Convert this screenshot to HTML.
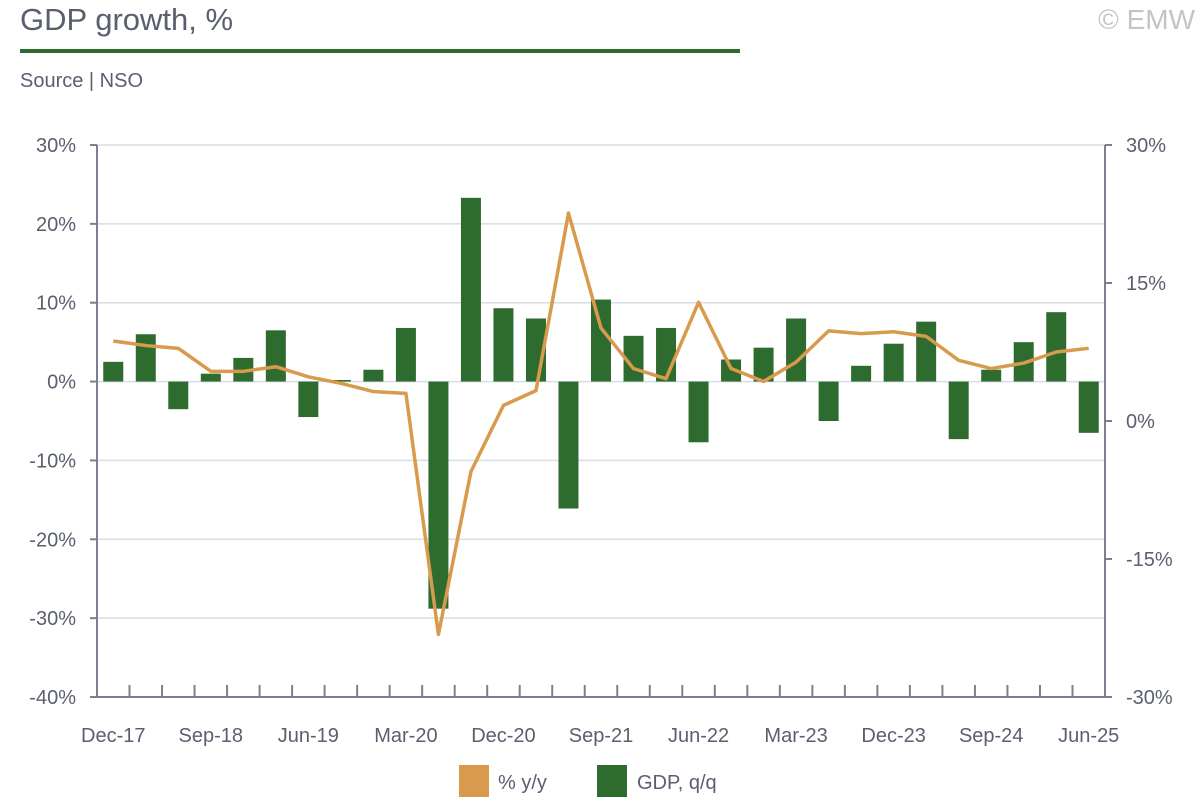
<!DOCTYPE html>
<html><head><meta charset="utf-8"><style>
body{margin:0;width:1200px;height:800px;background:#fff;font-family:"Liberation Sans",sans-serif;overflow:hidden;position:relative}
.t{position:absolute;color:#5a5f70}
</style></head><body>
<div class="t" style="left:20px;top:2px;font-size:31px;">GDP growth, %</div>
<div style="position:absolute;left:20px;top:49px;width:720px;height:4px;background:#2e6b2e"></div>
<div class="t" style="left:20px;top:70px;font-size:20px;">Source | NSO</div>
<div class="t" style="right:5px;top:4px;font-size:28px;color:#c4c4c8">© EMW</div>
<svg id="c" width="1200" height="800" style="position:absolute;left:0;top:0"></svg>
<script>
const categories=["Dec-17","Mar-18","Jun-18","Sep-18","Dec-18","Mar-19","Jun-19","Sep-19","Dec-19","Mar-20","Jun-20","Sep-20","Dec-20","Mar-21","Jun-21","Sep-21","Dec-21","Mar-22","Jun-22","Sep-22","Dec-22","Mar-23","Jun-23","Sep-23","Dec-23","Mar-24","Jun-24","Sep-24","Dec-24","Mar-25","Jun-25"];
const gdpQQ=[2.5,6.0,-3.5,1.0,3.0,6.5,-4.5,0.2,1.5,6.8,-28.8,23.3,9.3,8.0,-16.1,10.4,5.8,6.8,-7.7,2.8,4.3,8.0,-5.0,2.0,4.8,7.6,-7.3,1.5,5.0,8.8,-6.5];
const gdpYY=[8.7,8.2,7.9,5.4,5.4,5.9,4.8,4.1,3.2,3.0,-23.2,-5.5,1.7,3.3,22.6,10.1,5.7,4.6,12.9,5.7,4.3,6.4,9.8,9.5,9.7,9.2,6.6,5.7,6.3,7.5,7.9];
const leftTicks=[30,20,10,0,-10,-20,-30,-40];
const rightTicks=[30,15,0,-15,-30];
const xLabelIdx=[0,3,6,9,12,15,18,21,24,27,30];
const NS="http://www.w3.org/2000/svg",svg=document.getElementById('c');
const X0=97,X1=1105,TOP=145,BOT=697;
const band=(X1-X0)/categories.length;
const xc=i=>X0+band*(i+0.5);
const yL=v=>TOP+(30-v)*(BOT-TOP)/70;
const yR=v=>TOP+(30-v)*(BOT-TOP)/60;
function mk(t,a,p){const e=document.createElementNS(NS,t);for(const k in a)e.setAttribute(k,a[k]);(p||svg).appendChild(e);return e;}
const ax="#7a8090",txt="#5a5f70";
leftTicks.forEach(v=>{
 if(v!==-40){const g=mk('line',{x1:X0,x2:X1,y1:yL(v),y2:yL(v),stroke:'#d6dde6','stroke-width':1.5});
 
 }
 mk('line',{x1:X0-7,x2:X0,y1:yL(v),y2:yL(v),stroke:ax,'stroke-width':2});
 const t=mk('text',{x:76,y:yL(v)+7,'text-anchor':'end','font-size':20,fill:txt});t.textContent=v+'%';
 
 
});
rightTicks.forEach(v=>{
 mk('line',{x1:X1,x2:X1+7,y1:yR(v),y2:yR(v),stroke:ax,'stroke-width':2});
 const t=mk('text',{x:1126,y:yR(v)+7,'font-size':20,fill:txt});t.textContent=v+'%';
 
 
});
gdpQQ.forEach((v,i)=>{
 const y0=yL(0),y=yL(v);
 const r=mk('rect',{x:xc(i)-10,y:Math.min(y,y0),width:20,height:Math.abs(y-y0),fill:'#2e6b2e'});
 
 
});
mk('line',{x1:X0,x2:X0,y1:TOP,y2:BOT,stroke:ax,'stroke-width':2});
mk('line',{x1:X1,x2:X1,y1:TOP,y2:BOT,stroke:ax,'stroke-width':2});
mk('line',{x1:X0,x2:X1,y1:BOT,y2:BOT,stroke:ax,'stroke-width':2});
for(let i=1;i<categories.length;i++)mk('line',{x1:X0+band*i,x2:X0+band*i,y1:BOT-12,y2:BOT,stroke:ax,'stroke-width':2});
xLabelIdx.forEach(i=>{const t=mk('text',{x:xc(i),y:742,'text-anchor':'middle','font-size':20,fill:txt});t.textContent=categories[i];
 
 });
const pl=mk('polyline',{points:gdpYY.map((v,i)=>xc(i)+','+yR(v)).join(' '),fill:'none',stroke:'#d89a4c','stroke-width':3.5,'stroke-linejoin':'round'});


const l1=mk('rect',{x:459,y:765,width:30,height:32,fill:'#d89a4c'});


const t1=mk('text',{x:498,y:789,'font-size':20,fill:txt});t1.textContent='% y/y';


const l2=mk('rect',{x:597,y:765,width:30,height:32,fill:'#2e6b2e'});


const t2=mk('text',{x:637,y:789,'font-size':20,fill:txt});t2.textContent='GDP, q/q';


</script>
</body></html>
